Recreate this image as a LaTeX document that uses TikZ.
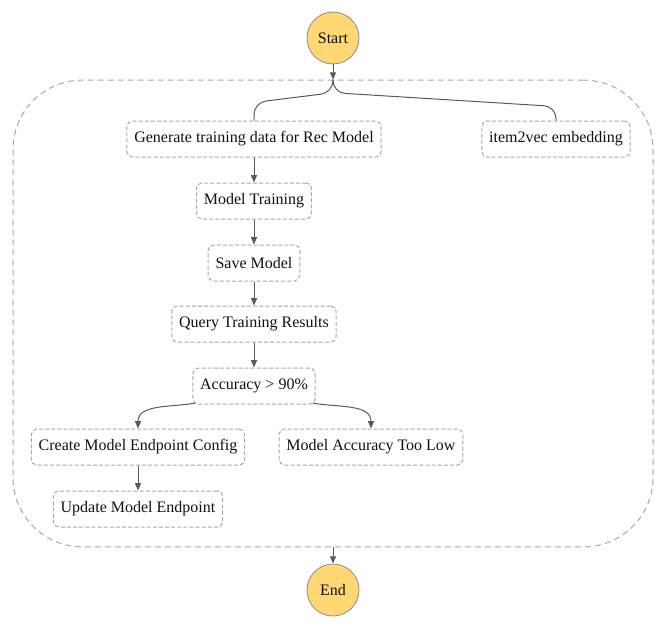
\documentclass[tikz,border=0pt]{standalone}
\usepackage{fontspec}
\setmainfont{Liberation Serif}
\usetikzlibrary{arrows.meta,positioning,calc}
\definecolor{sfInk}   {HTML}{111111}
\definecolor{sfEdge}  {HTML}{5A5A5A}
\definecolor{sfDash}  {HTML}{A8A8A8}
\definecolor{sfSun}   {HTML}{FFD874}
\definecolor{sfRim}   {HTML}{8C8C8C}

\tikzset{
  taskbox/.style={draw=sfDash,line width=0.75pt,dash pattern=on 3pt off 1.6pt,
    rounded corners=4pt,minimum height=27pt,inner xsep=5.5pt,text=sfInk},
  termnode/.style={circle,draw=sfRim,fill=sfSun,line width=0.6pt,minimum size=39pt,
    inner sep=0pt,text=sfInk},
  parbox/.style={draw=sfDash,line width=0.75pt,dash pattern=on 4.5pt off 3pt,
    rounded corners=52pt,minimum width=480pt,minimum height=350pt,inner sep=0pt},
  flow/.style={draw=sfEdge,line width=0.75pt,-{Triangle[length=5.5pt,width=4.5pt]}},
  branch/.style={draw=sfEdge,line width=0.75pt,rounded corners=9pt}
}

\begin{document}
\begin{tikzpicture}[x=0.75pt,y=-0.75pt,font=\fontsize{12}{14}\selectfont]
  \useasboundingbox (0,0) rectangle (665,625);

  % outer parallel state
  \node[parbox] (par) at (333,313.5) {};

  \node[termnode] (start) at (333,38) {Start};
  \node[termnode] (end) at (333,590) {End};

  % branch one
  \node[taskbox] (gen) at (254,139) {Generate training data for Rec Model};
  \node[taskbox] (train) at (254,201) {Model Training};
  \node[taskbox] (save) at (254,263) {Save Model};
  \node[taskbox] (query) at (254,324) {Query Training Results};
  \node[taskbox] (acc) at (254,386) {Accuracy > 90\%};
  \node[taskbox] (cfg) at (138,447) {Create Model Endpoint Config};
  \node[taskbox] (low) at (371,447) {Model Accuracy Too Low};
  \node[taskbox] (upd) at (138,509) {Update Model Endpoint};

  % branch two
  \node[taskbox] (emb) at (556,139) {item2vec embedding};

  \draw[flow] (start) -- (par.north);
  \draw[branch] (par.north) -- ++(0,13) -- ([yshift=13.5pt]gen.north) -- (gen.north);
  \draw[branch] (par.north) -- ++(0,13) -- ([yshift=10.5pt]emb.north) -- (emb.north);

  \draw[flow] (gen) -- (train);
  \draw[flow] (train) -- (save);
  \draw[flow] (save) -- (query);
  \draw[flow] (query) -- (acc);
  \draw[flow] ([xshift=2pt,yshift=1pt]acc.south west) to[out=190,in=90] (cfg.north);
  \draw[flow] ([xshift=-2pt,yshift=1pt]acc.south east) to[out=-10,in=90] (low.north);
  \draw[flow] (cfg) -- (upd);

  \draw[flow] (par.south) -- (end);
\end{tikzpicture}
\end{document}
